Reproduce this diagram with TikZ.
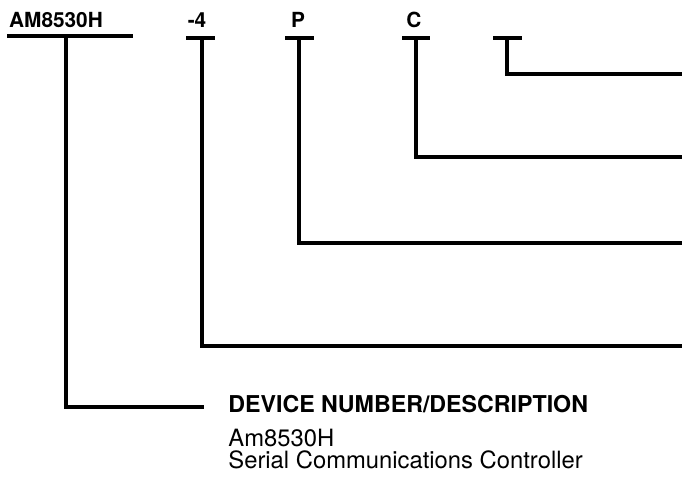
\documentclass[tikz,border=0pt]{standalone}
\usepackage{fontspec}
\setmainfont{TeX Gyre Heros}
\usetikzlibrary{positioning}

\begin{document}
\begin{tikzpicture}[
  x = 0.5pt, y = -0.5pt,
  code/.style = {font=\fontsize{10.4}{12}\selectfont\bfseries,
                 inner sep=0pt, anchor=base},
  bar/.style  = {line width=1.7pt},
  lead/.style = {line width=1.7pt},
  head/.style = {font=\fontsize{11.6}{13}\selectfont\bfseries,
                 inner sep=0pt, anchor=mid west},
  desc/.style = {font=\fontsize{11.9}{13}\selectfont,
                 inner sep=0pt, anchor=base west},
]
\useasboundingbox (0,0) rectangle (682,479);

%% ── Code fields ──────────────────────────────────────────────────────────
\node[code] (dev)   at (56,27)  {AM8530H};
\node[code] (speed) at (197,27) {-4};
\node[code] (pkg)   at (298,27) {P};
\node[code] (temp)  at (414,27) {C};

\coordinate (devtap)   at (66,36);
\coordinate (speedtap) at (202,38);
\coordinate (pkgtap)   at (299,38);
\coordinate (temptap)  at (416,38);
\coordinate (opttap)   at (507,38);

%% ── Underlines ───────────────────────────────────────────────────────────
\draw[bar] (devtap)   ++(-59,0) -- ++(126,0);
\draw[bar] (speedtap) ++(-16,0) -- ++(29,0);
\draw[bar] (pkgtap)   ++(-14,0) -- ++(29,0);
\draw[bar] (temptap)  ++(-14,0) -- ++(28,0);
\draw[bar] (opttap)   ++(-14,0) -- ++(29,0);

%% ── Leader ends ──────────────────────────────────────────────────────────
\coordinate (optend)   at (682,74);
\coordinate (tempend)  at (682,157);
\coordinate (pkgend)   at (682,243);
\coordinate (speedend) at (682,346);
\coordinate (devend)   at (204,407);

%% ── Description ──────────────────────────────────────────────────────────
\node[head, right=12pt of devend, anchor=mid west] (devhead) {DEVICE NUMBER/DESCRIPTION};
\node[desc] (devname) at (228,446) {Am8530H};
\node[desc] (devtext) at (228,468) {Serial Communications Controller};

%% ── Leaders ──────────────────────────────────────────────────────────────
\draw[lead] (opttap)   |- (optend);
\draw[lead] (temptap)  |- (tempend);
\draw[lead] (pkgtap)   |- (pkgend);
\draw[lead] (speedtap) |- (speedend);
\draw[lead] (devtap)   |- (devend);

\end{tikzpicture}
\end{document}
